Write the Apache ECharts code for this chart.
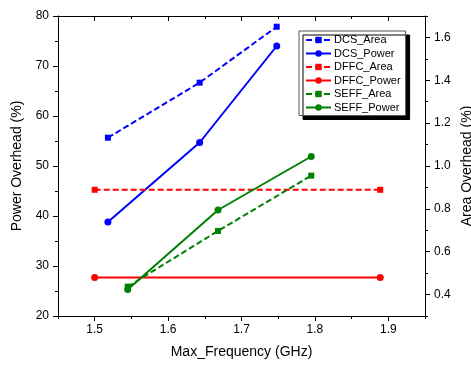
<!DOCTYPE html>
<html><head><meta charset="utf-8">
<script src="https://cdn.jsdelivr.net/npm/echarts@6/dist/echarts.min.js"></script>
<style>html,body{margin:0;padding:0;background:#fff}#c{width:471px;height:365px}</style>
</head><body><div id="c"></div>
<script>
// tick labels
const xTickLabels = ['1.45','1.5','1.55','1.6','1.65','1.7','1.75','1.8','1.85','1.9','1.95'];
const rightTickLabels = ['0.3','0.4','0.5','0.6','0.7','0.8','0.9','1.0','1.1','1.2','1.3','1.4','1.5','1.6','1.7'];
const seriesNames = ['DCS_Area','DCS_Power','DFFC_Area','DFFC_Power','SEFF_Area','SEFF_Power'];
// series values (x = Max_Frequency GHz)
const dcsX = [1.518, 1.643, 1.748];
const dcsArea = [1.132, 1.389, 1.650];
const dcsPower = [38.8, 54.7, 74.0];
const dffcX = [1.5, 1.889];
const dffcArea = [0.889, 0.889];
const dffcPower = [27.7, 27.7];
const seffX = [1.545, 1.668, 1.795];
const seffArea = [0.437, 0.697, 0.955];
const seffPower = [25.3, 41.2, 51.9];

const pairs = (xs, ys) => xs.map((x, i) => [x, ys[i]]);
const FONT = "'Liberation Sans', Arial, sans-serif";
const BLACK = '#000';
const isMajor = (i) => i % 2 === 1;

function mk(name, color, xs, ys, area) {
  return {
    name, type: 'line', data: pairs(xs, ys),
    xAxisIndex: 0, yAxisIndex: area ? 1 : 0,
    symbol: area ? 'rect' : 'circle', symbolSize: area ? 6 : 7,
    itemStyle: { color },
    lineStyle: { color, width: 2, type: area ? [6, 3] : 'solid' },
    animation: false
  };
}

const chart = echarts.init(document.getElementById('c'), null, { renderer: 'canvas' });
chart.setOption({
  animation: false,
  backgroundColor: '#fff',
  textStyle: { fontFamily: FONT },
  grid: { left: 58, right: 46, top: 16, bottom: 49, containLabel: false, outerBoundsMode: 'none' },
  legend: {
    orient: 'vertical', left: 299, top: 31,
    data: seriesNames,
    itemWidth: 25, itemHeight: 8, itemGap: 1.5,
    padding: [3, 5, 2, 6],
    backgroundColor: '#fff', borderColor: '#555', borderWidth: 1, borderRadius: 0,
    shadowColor: '#000', shadowBlur: 0, shadowOffsetX: 4, shadowOffsetY: 4,
    textStyle: { fontFamily: FONT, fontSize: 11, color: BLACK, lineHeight: 12, padding: [0,0,0,-2] }
  },
  xAxis: [
    { type: 'value', position: 'bottom', min: 1.45, max: 1.95, interval: 0.05,
      axisLine: { onZero: false, lineStyle: { color: BLACK, width: 1 } },
      axisTick: { show: true, length: 3, lineStyle: { color: BLACK } },
      axisLabel: { show: false }, splitLine: { show: false },
      name: 'Max_Frequency (GHz)', nameLocation: 'middle', nameGap: 29,
      nameTextStyle: { fontFamily: FONT, fontSize: 14, color: BLACK } },
    { type: 'category', position: 'bottom', data: xTickLabels, boundaryGap: false,
      axisLine: { show: false },
      axisTick: { show: true, length: 5, interval: isMajor, lineStyle: { color: BLACK } },
      axisLabel: { show: true, interval: isMajor, margin: 8, fontFamily: FONT, fontSize: 12, color: BLACK },
      splitLine: { show: false } },
    { type: 'value', position: 'top', min: 1.45, max: 1.95, interval: 0.05,
      axisLine: { onZero: false, lineStyle: { color: BLACK, width: 1 } },
      axisTick: { show: true, inside: true, length: 3, lineStyle: { color: BLACK } },
      axisLabel: { show: false }, splitLine: { show: false } },
    { type: 'category', position: 'top', data: xTickLabels, boundaryGap: false,
      axisLine: { show: false },
      axisTick: { show: true, inside: true, length: 5, interval: isMajor, lineStyle: { color: BLACK } },
      axisLabel: { show: false }, splitLine: { show: false } }
  ],
  yAxis: [
    { type: 'value', position: 'left', min: 20, max: 80, interval: 10,
      axisLine: { show: true, onZero: false, lineStyle: { color: BLACK, width: 1 } },
      axisTick: { show: true, length: 5, lineStyle: { color: BLACK } },
      minorTick: { show: true, splitNumber: 2, length: 3, lineStyle: { color: BLACK } },
      axisLabel: { margin: 9, fontFamily: FONT, fontSize: 12, color: BLACK },
      splitLine: { show: false }, minorSplitLine: { show: false },
      name: 'Power Overhead (%)', nameLocation: 'middle', nameGap: 34, nameRotate: 90,
      nameTextStyle: { fontFamily: FONT, fontSize: 14, color: BLACK } },
    { type: 'value', position: 'right', min: 0.3, max: 1.7, interval: 0.1,
      axisLine: { show: true, onZero: false, lineStyle: { color: BLACK, width: 1 } },
      axisTick: { show: true, length: 3, lineStyle: { color: BLACK } },
      axisLabel: { show: false }, splitLine: { show: false },
      name: 'Area Overhead (%)', nameLocation: 'middle', nameGap: 35, nameRotate: 90,
      nameTextStyle: { fontFamily: FONT, fontSize: 14, color: BLACK } },
    { type: 'category', position: 'right', data: rightTickLabels, boundaryGap: false,
      axisLine: { show: false },
      axisTick: { show: true, length: 5, interval: isMajor, lineStyle: { color: BLACK } },
      axisLabel: { show: true, interval: isMajor, margin: 9, fontFamily: FONT, fontSize: 12, color: BLACK },
      splitLine: { show: false } }
  ],
  series: [
    mk('DCS_Area', '#0000ff', dcsX, dcsArea, true),
    mk('DCS_Power', '#0000ff', dcsX, dcsPower, false),
    mk('DFFC_Area', '#ff0000', dffcX, dffcArea, true),
    mk('DFFC_Power', '#ff0000', dffcX, dffcPower, false),
    mk('SEFF_Area', '#008000', seffX, seffArea, true),
    mk('SEFF_Power', '#008000', seffX, seffPower, false)
  ]
});
</script>
</body></html>
